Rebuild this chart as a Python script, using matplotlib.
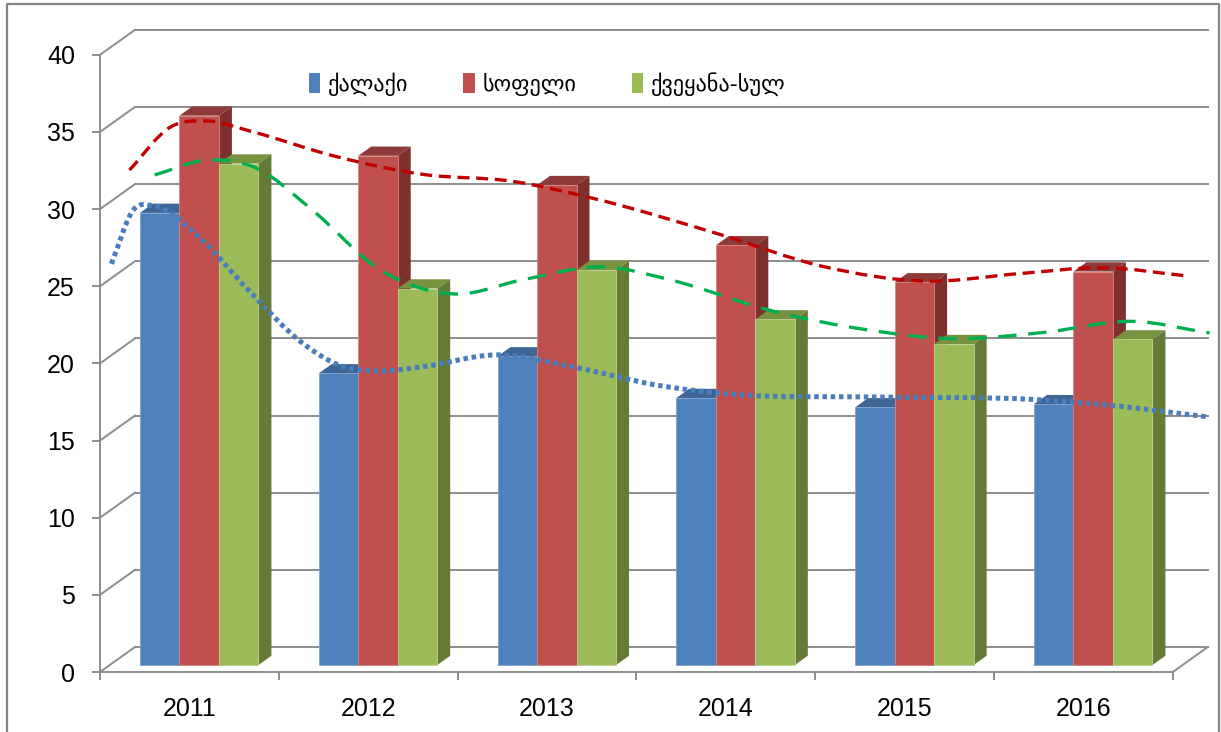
import numpy as np
import matplotlib
matplotlib.use("Agg")
import matplotlib.pyplot as plt
from matplotlib.patches import Polygon, Patch, PathPatch
from matplotlib.path import Path

years = ["2011", "2012", "2013", "2014", "2015", "2016"]
city = [29.3, 18.9, 20.0, 17.3, 16.7, 16.9]
village = [35.6, 33.0, 31.1, 27.2, 24.8, 25.5]
country = [32.5, 24.4, 25.6, 22.4, 20.8, 21.1]
names = ["ქალაქი", "სოფელი", "ქვეყანა-სულ"]

# smoothed trend curves (x in category units, value)
city_trend_x = [-0.27, -0.15, -0.03, 0.2, 0.5, 0.8, 1.0, 1.2, 1.45, 1.9, 2.3, 2.8, 3.2, 4.0, 4.9, 5.3, 5.87]
city_trend = [26.0, 29.45, 29.75, 27.95, 24.25, 20.85, 19.45, 19.05, 19.3, 20.1, 19.35, 18.1, 17.55, 17.37, 17.2, 16.85, 16.07]
village_trend_x = [-0.39, -0.16, 0.04, 0.3, 0.75, 1.25, 1.75, 2.2, 2.9, 3.5, 4.05, 4.6, 5.05, 5.53]
village_trend = [32.08, 34.87, 35.26, 34.55, 33.0, 31.8, 31.35, 30.25, 27.95, 25.8, 24.88, 25.38, 25.75, 25.21]
country_trend_x = [-0.47, -0.17, 0.1, 0.4, 0.8, 1.2, 1.6, 2.05, 2.4, 3.0, 3.5, 4.0, 4.5, 5.0, 5.43]
country_trend = [31.76, 32.73, 32.2, 29.6, 25.55, 24.05, 25.0, 25.8, 25.0, 22.9, 21.75, 21.15, 21.55, 22.27, 21.52]

plt.rcParams["font.family"] = ["Liberation Sans", "DejaVu Sans"]

front = ["#4F81BD", "#C0504D", "#9BBB59"]
top = ["#3E6596", "#8E3A38", "#779340"]
side = ["#385D8A", "#7D302E", "#667A38"]
edge = ["#7EA2D2", "#D98482", "#BBD28C"]
trend_col = ["#4A7EBB", "#C00000", "#00B050"]
trend_ls = [(0, (0.9, 0.75)), (0, (3.6, 2.0)), (0, (5.5, 3.5))]
trend_lw = [3.6, 2.4, 2.4]

W, H = 1221, 732
fig = plt.figure(figsize=(W / 100, H / 100), dpi=100)
ax = fig.add_axes([100 / W, (H - 672) / H, (1215 - 100) / W, (672 - 20) / H])
ax.set_xlim(-0.5, -0.5 + (1215 - 100) / 178.8)
ax.set_ylim(0, (672 - 20) / 15.43)

DX, DY = 35 / 178.8, 25 / 15.43   # full depth of the box
f0, f1 = 0.28, 0.65               # bar front / back depth fraction
grid = "#8C8C8C"
n = len(years)

# walls
for v in range(0, 41, 5):
    ax.plot([-0.5 + DX, n - 0.5 + DX], [v + DY, v + DY], color=grid, lw=1.4, zorder=1)
    ax.plot([-0.5, -0.5 + DX], [v, v + DY], color=grid, lw=1.4, zorder=1)
ax.plot([n - 0.5, n - 0.5 + DX], [0, DY], color=grid, lw=1.4, zorder=1, clip_on=False)

# bars
w = 0.221
series = [city, village, country]
for i in range(n):
    for s, vals in enumerate(series):
        xl = i + (s - 1.5) * w + f0 * DX
        xr = xl + w
        b = f0 * DY
        t = vals[i] + b
        ddx, ddy = (f1 - f0) * DX, (f1 - f0) * DY
        ax.add_patch(Polygon([(xr, b), (xr, t), (xr + ddx, t + ddy), (xr + ddx, b + ddy)],
                             closed=True, fc=side[s], ec="none", zorder=2))
        ax.add_patch(Polygon([(xl, t), (xr, t), (xr + ddx, t + ddy), (xl + ddx, t + ddy)],
                             closed=True, fc=top[s], ec="none", zorder=2))
        ax.bar(xl, vals[i], width=w, bottom=b, align="edge", color=front[s],
               edgecolor=edge[s], linewidth=0.6, zorder=2)


def smooth_path(xs, ys):
    xs, ys = np.asarray(xs, float), np.asarray(ys, float)
    m = np.gradient(ys, xs)
    verts, codes = [(xs[0], ys[0])], [Path.MOVETO]
    for k in range(len(xs) - 1):
        h = xs[k + 1] - xs[k]
        verts += [(xs[k] + h / 3, ys[k] + m[k] * h / 3),
                  (xs[k + 1] - h / 3, ys[k + 1] - m[k + 1] * h / 3),
                  (xs[k + 1], ys[k + 1])]
        codes += [Path.CURVE4] * 3
    return Path(verts, codes)


trends = [(city_trend_x, city_trend), (village_trend_x, village_trend),
          (country_trend_x, country_trend)]
for s, (tx, ty) in enumerate(trends):
    xs = np.array(tx) + (s - 1) * w + f0 * DX
    ys = np.array(ty) + f0 * DY
    ax.add_patch(PathPatch(smooth_path(xs, ys), fill=False, edgecolor=trend_col[s],
                           lw=trend_lw[s], linestyle=trend_ls[s], capstyle="butt", zorder=4))

# axes
for sp in ["top", "right"]:
    ax.spines[sp].set_visible(False)
ax.spines["left"].set_bounds(0, 40)
ax.spines["bottom"].set_bounds(-0.5, n - 0.5)
for sp in ["left", "bottom"]:
    ax.spines[sp].set_color(grid)
    ax.spines[sp].set_linewidth(1.4)
ax.set_yticks(range(0, 41, 5))
ax.set_xticks(range(n))
ax.set_xticklabels(years)
ax.set_xticks(np.arange(-0.5, n), minor=True)
ax.tick_params(axis="y", length=6, width=1.4, color=grid, pad=12, labelsize=18)
ax.tick_params(axis="x", which="major", length=0, pad=18, labelsize=18)
ax.tick_params(axis="x", which="minor", length=6, width=1.4, color=grid)

handles = [Patch(facecolor=c) for c in front]
fig.legend(handles, names, ncol=3, loc="center", bbox_to_anchor=(547 / W, 1 - 84 / H),
           frameon=False, handlelength=0.5, handleheight=0.95,
           handletextpad=0.35, columnspacing=2.5, prop={"family": ["DejaVu Sans"], "size": 16})

# chart frame
fig.add_artist(plt.Line2D([7 / W, 7 / W, 1219 / W, 1219 / W], [0, 1 - 4 / H, 1 - 4 / H, 0],
                          color="#868686", lw=1.6, transform=fig.transFigure))

fig.savefig("out.png", dpi=100)
